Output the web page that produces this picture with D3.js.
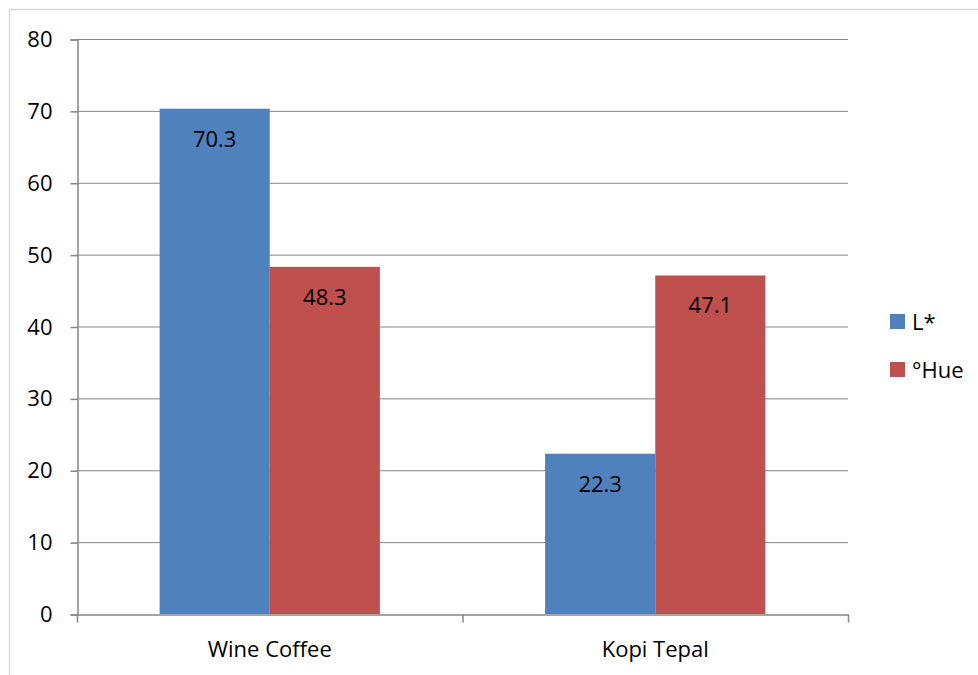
<!DOCTYPE html>
<html>
<head>
<meta charset="utf-8">
<script src="https://cdn.jsdelivr.net/npm/d3@7"></script>
<style>
  html, body { margin: 0; padding: 0; background: #fff; }
  svg { display: block; font-family: "Open Sans", "Noto Sans", "Liberation Sans", sans-serif; }
</style>
</head>
<body>
<svg id="chart" width="978" height="675"></svg>
<script>
// Chart data
const categories = ["Wine Coffee", "Kopi Tepal"];
const seriesNames = ["L*", "°Hue"];
const lValues = [70.3, 22.3];
const hueValues = [48.3, 47.1];
const yTicks = [0, 10, 20, 30, 40, 50, 60, 70, 80];
const colors = ["#4F81BD", "#C0504D"];

const FONT = "'Open Sans', 'Noto Sans', sans-serif";
const FS = 22;

const svg = d3.select("#chart");

// Outer chart frame
svg.append("rect")
  .attr("x", 9.5).attr("y", 9.5)
  .attr("width", 1000).attr("height", 700)
  .attr("fill", "#fff")
  .attr("stroke", "#d9d9d9")
  .attr("stroke-width", 1.5);

const plot = { left: 77, right: 848, top: 39, bottom: 614 };

const x0 = d3.scaleBand()
  .domain(categories)
  .range([plot.left, plot.right])
  .paddingInner(0).paddingOuter(0);

const x1 = d3.scaleBand()
  .domain(seriesNames)
  .range([0, x0.bandwidth()])
  .paddingInner(0)
  .paddingOuter(0.75);

const y = d3.scaleLinear().domain([0, 80]).range([plot.bottom, plot.top]);

// Gridlines
svg.append("g")
  .selectAll("line")
  .data(yTicks.filter(d => d > 0))
  .join("line")
  .attr("x1", plot.left).attr("x2", plot.right)
  .attr("y1", d => y(d) + 0.5).attr("y2", d => y(d) + 0.5)
  .attr("stroke", "#868686").attr("stroke-width", 1);

// Bars
const rows = categories.map((c, i) => ({ cat: c, vals: [lValues[i], hueValues[i]] }));
const groups = svg.append("g").selectAll("g")
  .data(rows).join("g")
  .attr("transform", d => `translate(${x0(d.cat)},0)`);

groups.selectAll("rect")
  .data(d => d.vals.map((v, j) => ({ key: seriesNames[j], v, j })))
  .join("rect")
  .attr("x", d => x1(d.key))
  .attr("y", d => y(d.v))
  .attr("width", x1.bandwidth())
  .attr("height", d => y(0) - y(d.v))
  .attr("fill", d => colors[d.j]);

groups.selectAll("text")
  .data(d => d.vals.map((v, j) => ({ key: seriesNames[j], v, j })))
  .join("text")
  .attr("x", d => x1(d.key) + x1.bandwidth() / 2)
  .attr("y", d => y(d.v) + 38)
  .attr("text-anchor", "middle")
  .attr("font-size", FS)
  .attr("fill", "#000")
  .text(d => d.v.toFixed(1));

// Y axis
const yAxis = d3.axisLeft(y).tickValues(yTicks).tickSize(7).tickPadding(18);
const gy = svg.append("g")
  .attr("transform", `translate(${plot.left + 0.5},0.5)`)
  .call(yAxis);
gy.select(".domain").attr("stroke", "#868686").attr("stroke-width", 1.5);
gy.selectAll(".tick line").attr("stroke", "#868686").attr("stroke-width", 1.5);
gy.selectAll(".tick text")
  .attr("font-size", FS)
  .attr("font-family", FONT)
  .attr("fill", "#000");

// X axis
const xAxis = d3.axisBottom(x0).tickSize(0).tickPadding(27);
const gx = svg.append("g")
  .attr("transform", `translate(0,${plot.bottom + 0.5})`)
  .call(xAxis);
gx.select(".domain").attr("stroke", "#868686").attr("stroke-width", 1.5);
gx.selectAll(".tick text")
  .attr("font-size", FS)
  .attr("font-family", FONT)
  .attr("fill", "#000");
// Category boundary tick marks
const boundaries = categories.map(c => x0(c)).concat([x0(categories[categories.length - 1]) + x0.bandwidth()]);
gx.selectAll("line.bound")
  .data(boundaries).join("line")
  .attr("class", "bound")
  .attr("x1", d => d + 0.5).attr("x2", d => d + 0.5)
  .attr("y1", 0).attr("y2", 8)
  .attr("stroke", "#868686").attr("stroke-width", 1.5);

// Legend
const legend = svg.append("g").attr("transform", "translate(890,314)");
const items = legend.selectAll("g").data(seriesNames).join("g")
  .attr("transform", (d, i) => `translate(0,${i * 48})`);
items.append("rect")
  .attr("width", 15).attr("height", 15)
  .attr("fill", (d, i) => colors[i]);
items.append("text")
  .attr("x", 22).attr("y", 8)
  .attr("dy", "0.35em")
  .attr("font-size", FS)
  .attr("fill", "#000")
  .text(d => d);
</script>
</body>
</html>
